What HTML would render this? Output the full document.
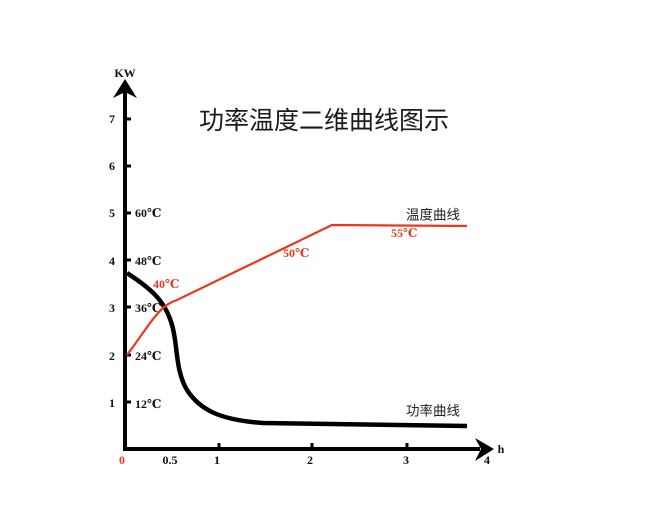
<!DOCTYPE html>
<html><head><meta charset="utf-8"><style>
html,body{margin:0;padding:0;background:#fff;}
svg{display:block;}
.n{font-family:"Liberation Serif","DejaVu Serif","Noto Serif CJK SC",serif;font-weight:bold;font-size:12px;fill:#111;}
.t{font-family:"Liberation Serif","DejaVu Serif","Noto Serif CJK SC",serif;font-weight:bold;font-size:12px;fill:#111;}
.r{fill:#e8391f;}
.c{font-family:"Liberation Sans","Noto Sans CJK SC",sans-serif;font-size:13.5px;fill:#222;}
</style></head><body>
<svg width="649" height="506" viewBox="0 0 649 506" xmlns="http://www.w3.org/2000/svg">
<rect width="649" height="506" fill="#fff"/>
<!-- title -->
<text x="324" y="121" text-anchor="middle" dominant-baseline="central" font-family="'Liberation Sans','Noto Sans CJK SC',sans-serif" font-size="25" fill="#1a1a1a">功率温度二维曲线图示</text>
<!-- axes -->
<line x1="125" y1="92" x2="125" y2="451" stroke="#000" stroke-width="4"/>
<line x1="123" y1="449" x2="480" y2="449" stroke="#000" stroke-width="4"/>
<path d="M125,79 L137,98 L125,92 L113,98 Z" fill="#000"/>
<path d="M494,449 L475,438 L481,449 L475,461 Z" fill="#000"/>
<text x="125" y="73" text-anchor="middle" dominant-baseline="central" class="n" font-size="9">KW</text>
<text x="501" y="449" text-anchor="middle" dominant-baseline="central" class="n" font-size="12">h</text>
<!-- ticks -->
<g stroke="#000" stroke-width="3">
<line x1="125" y1="119" x2="131" y2="119"/>
<line x1="125" y1="166" x2="131" y2="166"/>
<line x1="125" y1="213" x2="131" y2="213"/>
<line x1="125" y1="260" x2="131" y2="260"/>
<line x1="125" y1="307" x2="131" y2="307"/>
<line x1="125" y1="355" x2="131" y2="355"/>
<line x1="125" y1="402" x2="131" y2="402"/>
<line x1="219" y1="449" x2="219" y2="443"/>
<line x1="312" y1="449" x2="312" y2="443"/>
<line x1="407" y1="449" x2="407" y2="443"/>
</g>
<g class="n" text-anchor="middle" dominant-baseline="central">
<text x="112" y="119">7</text>
<text x="112" y="166">6</text>
<text x="112" y="213">5</text>
<text x="112" y="261">4</text>
<text x="112" y="308">3</text>
<text x="112" y="356">2</text>
<text x="112" y="403">1</text>
<text x="122" y="460" class="n r">0</text>
<text x="170" y="460">0.5</text>
<text x="217" y="460">1</text>
<text x="310" y="460">2</text>
<text x="406" y="460">3</text>
<text x="487" y="460">4</text>
</g>
<g class="t" dominant-baseline="central">
<text x="135" y="213">60℃</text>
<text x="135" y="261">48℃</text>
<text x="135" y="308">36℃</text>
<text x="135" y="356">24℃</text>
<text x="135" y="404">12℃</text>
</g>
<g class="t r" dominant-baseline="central">
<text x="153" y="284">40℃</text>
<text x="283" y="253">50℃</text>
<text x="391" y="233">55℃</text>
</g>
<text x="406" y="215" class="c" dominant-baseline="central">温度曲线</text>
<text x="406" y="411" class="c" dominant-baseline="central">功率曲线</text>
<!-- curves -->
<path d="M127,273 C150,288 165,300 172,325 C178,345 175,370 187,390 C200,410 220,420 263,423 L467,426" fill="none" stroke="#000" stroke-width="4.5" stroke-linecap="butt"/>
<path d="M127,355 C140,338 152,318 163,308 C168,304 171,302 177,300 L332,225 L467,226" fill="none" stroke="#e8391f" stroke-width="2.2"/>
</svg>
</body></html>
